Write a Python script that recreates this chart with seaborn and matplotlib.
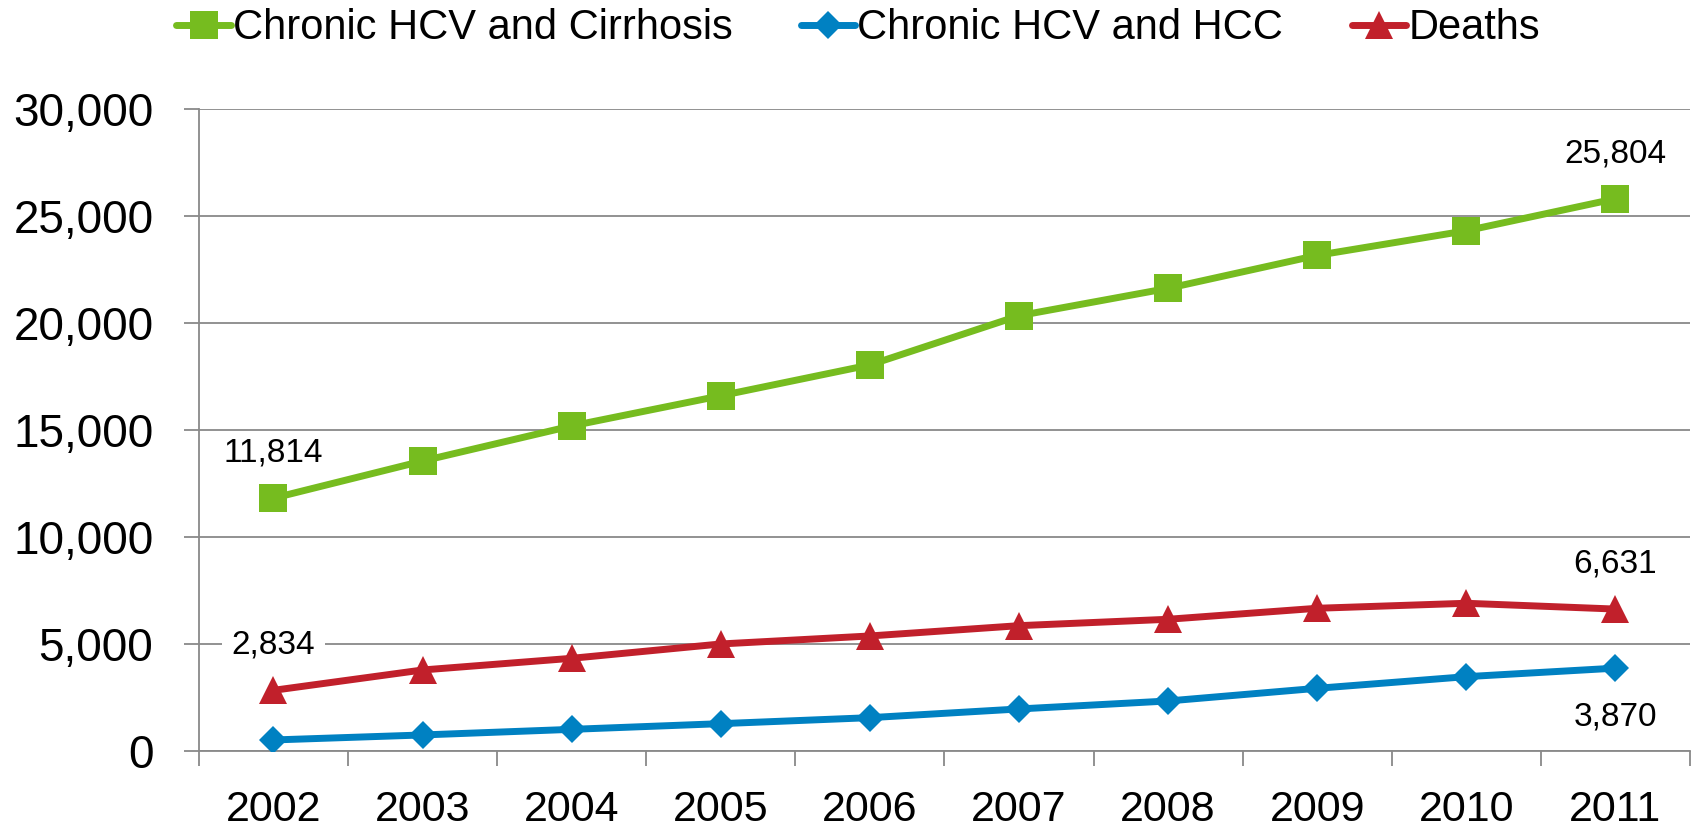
import matplotlib
matplotlib.use("Agg")
import matplotlib.pyplot as plt
import seaborn as sns
from matplotlib.ticker import FuncFormatter, FixedLocator

# data
years = [2002, 2003, 2004, 2005, 2006, 2007, 2008, 2009, 2010, 2011]
cirrhosis = [11814, 13550, 15190, 16600, 18040, 20340, 21620, 23160, 24310, 25804]
hcc = [514, 748, 1010, 1276, 1556, 1963, 2336, 2928, 3472, 3870]
deaths = [2834, 3785, 4330, 5000, 5374, 5855, 6154, 6668, 6902, 6631]

labels = ["Chronic HCV and Cirrhosis", "Chronic HCV and HCC", "Deaths"]
colors = ["#76BC1F", "#0081C2", "#C1202B"]
markers = ["s", "D", "^"]
msizes = [20, 14, 20]

sns.set_style("white")
plt.rcParams["font.family"] = ["Liberation Sans", "DejaVu Sans"]
plt.rcParams["text.color"] = "black"
plt.rcParams["xtick.labelcolor"] = "black"
plt.rcParams["ytick.labelcolor"] = "black"

fig = plt.figure(figsize=(16.96, 8.32), dpi=100)
ax = fig.add_axes([0.1173, 0.0974, 0.8791, 0.7716])

for vals, lab, col, mk, ms in zip([cirrhosis, hcc, deaths], labels, colors, markers, msizes):
    sns.lineplot(x=years, y=vals, ax=ax, color=col, linewidth=5, marker=mk,
                 markersize=ms, markeredgewidth=0, label=lab, zorder=3)

ax.set_xlim(2001.5, 2011.5)
ax.set_ylim(0, 30000)
ax.set_yticks(range(0, 30001, 5000))
ax.yaxis.set_major_formatter(FuncFormatter(lambda v, p: f"{int(v):,}"))
ax.set_xticks(years)
ax.set_xticklabels([str(y) for y in years])
ax.xaxis.set_minor_locator(FixedLocator([y - 0.5 for y in years] + [2011.5]))

grid_c = "#898989"
ax.yaxis.grid(True, color=grid_c, linewidth=1.3, zorder=0)
ax.xaxis.grid(False)
ax.set_axisbelow(True)
for s in ["top", "right"]:
    ax.spines[s].set_visible(False)
for s in ["left", "bottom"]:
    ax.spines[s].set_color(grid_c)
    ax.spines[s].set_linewidth(1.3)

ax.tick_params(axis="y", which="major", direction="out", length=10.8, width=1.3,
               color=grid_c, pad=22, labelsize=33, left=True)
ax.tick_params(axis="x", which="major", length=0, pad=28, labelsize=31)
ax.tick_params(axis="x", which="minor", direction="out", length=10.8, width=1.3,
               color=grid_c, bottom=True)
ax.set_xlabel("")
ax.set_ylabel("")

# data labels on first / last points
box = dict(boxstyle="square,pad=0.3", fc="white", ec="none")
ax.annotate(f"{cirrhosis[0]:,}", (years[0], cirrhosis[0]), xytext=(0, 32.5),
            textcoords="offset points", ha="center", va="center", fontsize=24, zorder=4)
ax.annotate(f"{cirrhosis[-1]:,}", (years[-1], cirrhosis[-1]), xytext=(0, 32.5),
            textcoords="offset points", ha="center", va="center", fontsize=24, zorder=4)
ax.annotate(f"{deaths[0]:,}", (years[0], deaths[0]), xytext=(0, 32.5),
            textcoords="offset points", ha="center", va="center", fontsize=24,
            bbox=box, zorder=2)
ax.annotate(f"{deaths[-1]:,}", (years[-1], deaths[-1]), xytext=(0, 32.5),
            textcoords="offset points", ha="center", va="center", fontsize=24,
            bbox=box, zorder=2)
ax.annotate(f"{hcc[-1]:,}", (years[-1], hcc[-1]), xytext=(0, -35.3),
            textcoords="offset points", ha="center", va="center", fontsize=24,
            bbox=box, zorder=2)

handles, labs = ax.get_legend_handles_labels()
ax.get_legend().remove()
fig.legend(handles, labs, loc="center", bbox_to_anchor=(0.506, 0.966), ncol=3,
           frameon=False, fontsize=30, handlelength=1.3, handletextpad=0.05,
           columnspacing=1.65, numpoints=1)

fig.savefig("out.png", dpi=100)
